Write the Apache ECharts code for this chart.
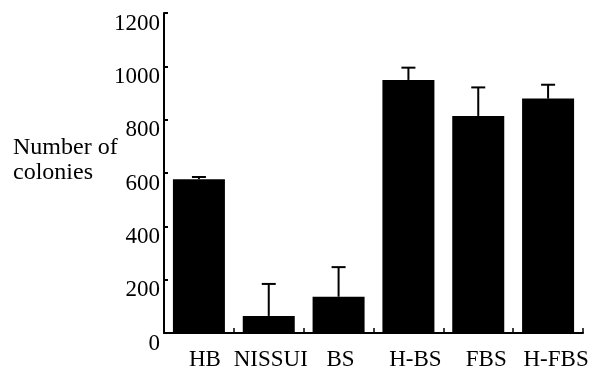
<!DOCTYPE html>
<html>
<head>
<meta charset="utf-8">
<script src="https://cdn.jsdelivr.net/npm/echarts@6/dist/echarts.min.js"></script>
<style>
html,body{margin:0;padding:0;background:#fff;}
#chart{width:592px;height:369px;}
</style>
</head>
<body>
<div id="chart"></div>
<script>
var categories = ['HB', 'NISSUI', 'BS', 'H-BS', 'FBS', 'H-FBS'];
var means = [577, 64, 136, 949, 814, 879];
var errors = [8, 120, 111, 46, 107, 52];
var yTicks = [0, 200, 400, 600, 800, 1000, 1200];
var yTitle = 'Number of\ncolonies';

var FONT = 'Liberation Serif';
var chart = echarts.init(document.getElementById('chart'), null, {renderer: 'canvas'});

var errData = categories.map(function (c, i) { return [i, means[i], errors[i]]; });

// label horizontal nudges (layout only)
var labelShift = [6, 2, 2, 7, 8, 8];
var rich = {};
labelShift.forEach(function (s, i) {
  rich['l' + i] = {fontFamily: FONT, fontSize: 23, color: '#000', padding: [0, 0, 0, 2 * s]};
});

chart.setOption({
  animation: false,
  backgroundColor: '#fff',
  grid: {left: 164, right: 9, top: 13, bottom: 36, containLabel: false, outerBoundsMode: 'none'},
  xAxis: {
    type: 'category',
    data: categories,
    boundaryGap: true,
    axisLine: {show: true, lineStyle: {color: '#000', width: 2}},
    axisTick: {show: true, inside: true, length: 5, interval: 0, alignWithLabel: false, lineStyle: {color: '#000', width: 1.5}},
    axisLabel: {color: '#000', fontFamily: FONT, fontSize: 23, margin: 15, interval: 0, hideOverlap: false,
      formatter: function (v, i) { return '{l' + i + '|' + v + '}'; }, rich: rich},
    splitLine: {show: false}
  },
  yAxis: {
    type: 'value',
    min: yTicks[0],
    max: yTicks[yTicks.length - 1],
    interval: 200,
    axisLine: {show: true, lineStyle: {color: '#000', width: 2}},
    axisTick: {show: true, inside: true, length: 4, lineStyle: {color: '#000', width: 2}},
    axisLabel: {color: '#000', fontFamily: FONT, fontSize: 23, margin: 4, verticalAlign: 'top', padding: [-1, 0, 0, 0],
      formatter: function (v) { return String(v); }},
    splitLine: {show: false}
  },
  graphic: [{
    type: 'text',
    left: 13,
    top: 135,
    style: {text: yTitle, font: '24px "Liberation Serif"', fill: '#000', lineHeight: 25}
  }],
  series: [{
    type: 'bar',
    data: means,
    barWidth: 52,
    itemStyle: {color: '#000'}
  }, {
    type: 'custom',
    data: errData,
    z: 3,
    renderItem: function (params, api) {
      var i = api.value(0);
      var m = api.value(1);
      var e = api.value(2);
      var p0 = api.coord([i, m]);
      var p1 = api.coord([i, m + e]);
      var hw = 7;
      return {
        type: 'group',
        children: [{
          type: 'line',
          shape: {x1: p0[0], y1: p0[1], x2: p1[0], y2: p1[1]},
          style: {stroke: '#000', lineWidth: 2}
        }, {
          type: 'line',
          shape: {x1: p1[0] - hw, y1: p1[1], x2: p1[0] + hw, y2: p1[1]},
          style: {stroke: '#000', lineWidth: 2}
        }]
      };
    }
  }]
});
</script>
</body>
</html>
